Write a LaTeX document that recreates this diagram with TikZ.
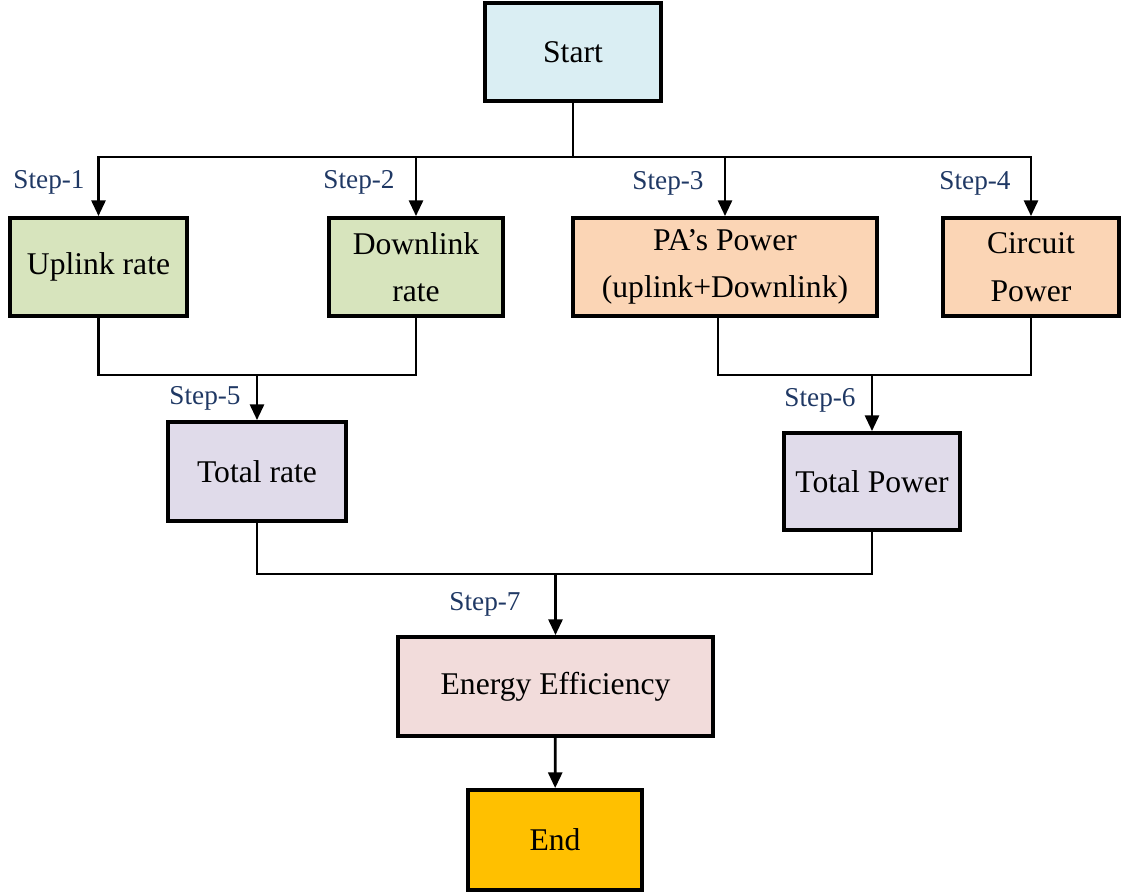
\documentclass[tikz,border=0pt]{standalone}
\usepackage{fontspec}
\setmainfont{Liberation Serif}
\definecolor{StartBlue}{RGB}{218,238,243}
\definecolor{RateGreen}{RGB}{215,228,189}
\definecolor{PowerPeach}{RGB}{251,213,181}
\definecolor{TotalLilac}{RGB}{224,219,234}
\definecolor{EERose}{RGB}{242,220,219}
\definecolor{EndGold}{RGB}{255,192,0}
\definecolor{StepNavy}{RGB}{31,56,100}
\usepackage{tikz}
\usetikzlibrary{arrows.meta, positioning}

\begin{document}
\begin{tikzpicture}[x=0.02cm, y=-0.02cm,
	blk/.style={draw, line width=2.2pt, inner sep=0pt, align=center,
		font=\fontsize{18}{27}\selectfont},
	lbl/.style={text=StepNavy, inner sep=0pt, font=\fontsize{15.5}{17}\selectfont},
	ln/.style={line width=1.6pt},
	arr/.style={ln, -{Triangle[length=9pt, width=8pt]}}]
	\useasboundingbox (0,0) rectangle (1123,893);
	% boxes
	\node[blk, fill=StartBlue, minimum width=3.52cm, minimum height=1.96cm] (start) at (573,52) {Start};
	\node[blk, fill=RateGreen, minimum width=3.54cm, minimum height=1.96cm] (up) at (98.5,267) {Uplink rate};
	\node[blk, fill=RateGreen, minimum width=3.48cm, minimum height=1.96cm] (down) at (416,267) {Downlink\\rate};
	\node[blk, fill=PowerPeach, minimum width=6.08cm, minimum height=1.96cm] (pa) at (725,267) {PA’s Power\\(uplink+Downlink)};
	\node[blk, fill=PowerPeach, minimum width=3.52cm, minimum height=1.96cm] (circ) at (1031,267) {Circuit\\Power};
	\node[blk, fill=TotalLilac, minimum width=3.56cm, minimum height=1.98cm] (trate) at (257,471.5) {Total rate};
	\node[blk, fill=TotalLilac, minimum width=3.52cm, minimum height=1.94cm] (tpow) at (872,481.5) {Total Power};
	\node[blk, fill=EERose, minimum width=6.3cm, minimum height=1.98cm] (ee) at (555.5,686.5) {Energy Efficiency};
	\node[blk, fill=EndGold, minimum width=3.48cm, minimum height=2cm] (end) at (555,840) {End};
	% junctions
	\coordinate (b1) at (573,157);
	\coordinate (b2) at (257,375);
	\coordinate (b3) at (872,375);
	\coordinate (b4) at (555.5,574);
	% connectors
	\draw[ln] (start) -- (b1);
	\draw[arr] (b1) -| (up);
	\draw[arr] (b1) -| (down);
	\draw[arr] (b1) -| (pa);
	\draw[arr] (b1) -| (circ);
	\draw[ln] (up.south) |- (b2) -| (down.south);
	\draw[arr] (b2) -- (trate);
	\draw[ln] ([xshift=-0.14cm]pa.south) |- (b3) -| (circ.south);
	\draw[arr] (b3) -- (tpow);
	\draw[ln] (trate.south) |- (b4) -| (tpow.south);
	\draw[arr] (b4) -- (ee);
	\draw[arr] (ee) -- (end);
	% step labels
	\node[lbl] (s1) at (49,182) {Step-1};
	\node[lbl] (s2) at (359,182) {Step-2};
	\node[lbl] (s3) at (668,183) {Step-3};
	\node[lbl] (s4) at (975,183) {Step-4};
	\node[lbl] (s5) at (205,398) {Step-5};
	\node[lbl] (s6) at (820,400) {Step-6};
	\node[lbl] (s7) at (485,604) {Step-7};
\end{tikzpicture}
\end{document}
